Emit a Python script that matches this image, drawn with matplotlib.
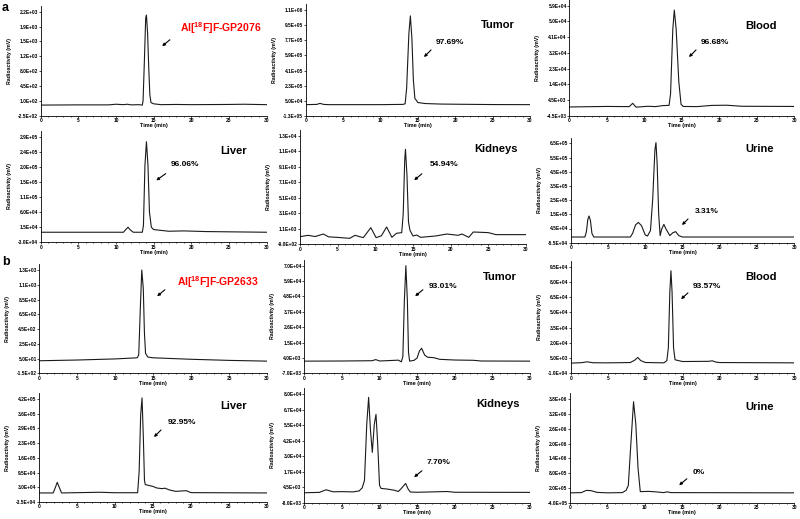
import numpy as np
import matplotlib.pyplot as plt
from matplotlib.patches import FancyArrowPatch

plt.rcParams['font.family'] = ['Liberation Sans', 'DejaVu Sans']
plt.rcParams['font.weight'] = 'bold'
plt.rcParams['mathtext.fontset'] = 'custom'
plt.rcParams['mathtext.rm'] = 'Liberation Sans:bold'
plt.rcParams['mathtext.bf'] = 'Liberation Sans:bold'

# ---------------------------------------------------------------
# Datos leídos de los cromatogramas (tiempo en min, señal en mV)
# ---------------------------------------------------------------

# a) Al[18F]F-GP2076
t_a_std = [0, 5, 9, 10, 11, 11.5, 12, 13, 13.5, 13.6, 13.75, 13.95, 14.05, 14.2, 14.35, 14.5, 14.65, 15, 16, 18, 20, 25, 27, 30]
v_a_std = [0, 5, 5, 20, 10, 20, 5, 10, 0, 100, 900, 2050, 2120, 1700, 900, 250, 60, 30, 10, 15, 10, 15, 20, 10]

t_a_tumor = [0, 1.5, 1.9, 2.4, 3, 10, 13, 13.3, 13.5, 13.8, 14.0, 14.2, 14.4, 14.6, 15, 16, 18, 20, 25, 30]
v_a_tumor = [5000, 8000, 20000, 8000, 5000, 5000, 8000, 15000, 200000, 850000, 1060000, 800000, 300000, 80000, 30000, 18000, 12000, 10000, 6000, 5000]

t_a_blood = [0, 5, 8, 8.45, 8.9, 10.5, 11.5, 12.5, 13.3, 13.5, 13.8, 14.0, 14.25, 14.6, 14.9, 15.2, 17, 19, 21, 23, 30]
v_a_blood = [500, 800, 700, 2600, 400, 900, 700, 1300, 1400, 8000, 45000, 56000, 45000, 15000, 2000, 800, 700, 1400, 1500, 900, 800]

t_a_liver = [0, 10, 11, 11.3, 11.6, 11.9, 12.3, 13.5, 13.65, 13.85, 14.05, 14.25, 14.45, 14.7, 15, 17, 19, 22, 30]
v_a_liver = [0, 0, 0, 8000, 15000, 7000, 0, 0, 20000, 200000, 270000, 200000, 60000, 15000, 8000, 3000, 4000, 2000, 0]

t_a_kid = [0, 1.1, 2, 3.1, 3.8, 4.9, 6.6, 7.3, 8.4, 9.4, 10.1, 10.8, 11.5, 12.2, 12.8, 13.5, 13.7, 13.9, 14.0, 14.2, 14.4, 14.6, 15, 15.5, 16, 18, 19.5, 21, 21.5, 22.4, 23, 25, 26, 30]
v_a_kid = [90, 260, 100, 430, 60, 0, -130, 260, -40, 1250, -40, 200, 1340, 0, 520, 610, 3000, 10000, 11380, 8000, 2000, 900, 175, 300, 0, 175, 430, 260, 430, 0, 690, 610, 350, 350]

t_a_urine = [0, 1.9, 2.1, 2.3, 2.46, 2.65, 2.85, 3.1, 8, 8.3, 8.7, 9.07, 9.5, 10.0, 10.3, 10.7, 11.0, 11.3, 11.44, 11.6, 11.8, 12.0, 12.2, 12.5, 12.8, 13.3, 13.7, 14.08, 14.5, 15, 30]
v_a_urine = [-15000, -15000, 20000, 110000, 133000, 100000, 10000, -15000, -15000, 10000, 70000, 88000, 65000, 0, -8000, 30000, 250000, 600000, 650000, 500000, 150000, -5000, 40000, 74000, 40000, -5000, 15000, 23000, -5000, -15000, -15000]

# b) Al[18F]F-GP2633
t_b_std = [0, 5, 10, 12.9, 13.1, 13.3, 13.5, 13.7, 13.85, 14.0, 14.3, 15, 20, 25, 30]
v_b_std = [20, 30, 45, 60, 100, 700, 1250, 1000, 400, 120, 70, 60, 40, 25, 15]

t_b_tumor = [0, 5, 9, 9.5, 10, 12.5, 12.9, 13.1, 13.3, 13.5, 13.7, 13.85, 14.0, 14.6, 15.0, 15.3, 15.6, 16.0, 16.4, 17.2, 18, 20, 22.5, 23.5, 30]
v_b_tumor = [1700, 1800, 2000, 2800, 1800, 2400, 1200, 5000, 45000, 70000, 45000, 8000, 1700, 2300, 4000, 9000, 10900, 6000, 4500, 4200, 3000, 2500, 2300, 1800, 1700]

t_b_blood = [0, 1.5, 2.2, 3, 5, 8, 8.6, 9.0, 9.4, 10, 12.5, 12.9, 13.1, 13.3, 13.45, 13.6, 13.8, 14.0, 15, 18.5, 19, 19.5, 20, 30]
v_b_blood = [0, 500, 1300, 400, 300, 600, 3000, 5600, 2500, 650, 300, 2500, 15000, 70000, 91000, 70000, 15000, 3300, 1600, 1800, 2300, 1000, 600, 300]

t_b_liver = [0, 1.9, 2.2, 2.44, 2.7, 3.0, 8, 10, 13.0, 13.2, 13.4, 13.58, 13.75, 13.9, 14.0, 15, 15.5, 16.2, 16.6, 17.2, 18, 19.4, 20, 30]
v_b_liver = [5000, 5000, 30000, 52000, 30000, 5000, 8000, 6000, 6000, 100000, 350000, 425000, 250000, 60000, 42000, 34000, 27000, 24000, 26000, 18000, 12000, 15000, 6400, 5000]

t_b_kid = [0, 2, 2.9, 3.8, 5, 6.5, 7.3, 7.7, 8.0, 8.3, 8.55, 8.8, 9.04, 9.3, 9.53, 9.75, 10.0, 10.2, 11, 12, 12.5, 12.9, 13.47, 13.8, 14.1, 15, 19, 20, 30]
v_b_kid = [0, 300, 2400, 800, 900, 700, 1500, 4000, 10000, 55000, 76800, 50000, 32500, 55000, 63100, 40000, 6000, 3500, 3000, 2000, 1000, 3500, 7500, 3000, 600, 400, 1000, 400, 300]

t_b_urine = [0, 1.5, 2.2, 2.8, 3.6, 5, 7, 7.5, 7.8, 8.1, 8.5, 8.8, 9.1, 9.4, 10.5, 11.5, 12.5, 13, 13.5, 30]
v_b_urine = [0, 10000, 100000, 90000, 20000, 0, 10000, 100000, 300000, 1800000, 3700000, 2800000, 1000000, 50000, 60000, 40000, 10000, 40000, 10000, 0]

# Ejes Y: primer valor, paso y etiquetas tal como aparecen
y_start = [-250, -130000, -4500, -30000, -900, -55000,
           -150, -7000, -10000, -35000, -8000, -400000]
y_step = [350, 180000, 9000, 45000, 2000, 100000,
          200, 11000, 15000, 65000, 12500, 600000]
y_labels = [
    ["-2.5E+02", "1.0E+02", "4.5E+02", "8.0E+02", "1.2E+03", "1.5E+03", "1.9E+03", "2.2E+03"],
    ["-1.3E+05", "5.0E+04", "2.3E+05", "4.1E+05", "5.9E+05", "7.7E+05", "9.5E+05", "1.1E+06"],
    ["-4.5E+03", "4.5E+03", "1.4E+04", "2.3E+04", "3.2E+04", "4.1E+04", "5.0E+04", "5.9E+04"],
    ["-3.0E+04", "1.5E+04", "6.0E+04", "1.1E+05", "1.5E+05", "2.0E+05", "2.4E+05", "2.9E+05"],
    ["-9.0E+02", "1.1E+03", "3.1E+03", "5.1E+03", "7.1E+03", "9.1E+03", "1.1E+04", "1.3E+04"],
    ["-5.5E+04", "4.5E+04", "1.5E+05", "2.5E+05", "3.5E+05", "4.5E+05", "5.5E+05", "6.5E+05"],
    ["-1.5E+02", "5.0E+01", "2.5E+02", "4.5E+02", "6.5E+02", "8.5E+02", "1.1E+03", "1.3E+03"],
    ["-7.0E+03", "4.0E+03", "1.5E+04", "2.6E+04", "3.7E+04", "4.8E+04", "5.9E+04", "7.0E+04"],
    ["-1.0E+04", "5.0E+03", "2.0E+04", "3.5E+04", "5.0E+04", "6.5E+04", "8.0E+04", "9.5E+04"],
    ["-3.5E+04", "3.0E+04", "9.5E+04", "1.6E+05", "2.3E+05", "2.9E+05", "3.6E+05", "4.2E+05"],
    ["-8.0E+03", "4.5E+03", "1.7E+04", "3.0E+04", "4.2E+04", "5.5E+04", "6.7E+04", "8.0E+04"],
    ["-4.0E+05", "2.0E+05", "8.0E+05", "1.4E+06", "2.0E+06", "2.6E+06", "3.2E+06", "3.8E+06"],
]

titles = ["", "Tumor", "Blood", "Liver", "Kidneys", "Urine",
          "", "Tumor", "Blood", "Liver", "Kidneys", "Urine"]
compounds = [r"Al[$^{18}$F]F-GP2076", r"Al[$^{18}$F]F-GP2633"]
percents = ["", "97.69%", "96.68%", "96.06%", "54.94%", "3.31%",
            "", "93.01%", "93.57%", "92.95%", "7.70%", "0%"]

series = [(t_a_std, v_a_std), (t_a_tumor, v_a_tumor), (t_a_blood, v_a_blood),
          (t_a_liver, v_a_liver), (t_a_kid, v_a_kid), (t_a_urine, v_a_urine),
          (t_b_std, v_b_std), (t_b_tumor, v_b_tumor), (t_b_blood, v_b_blood),
          (t_b_liver, v_b_liver), (t_b_kid, v_b_kid), (t_b_urine, v_b_urine)]

# ---------------------------------------------------------------
# Maquetación (píxeles de la imagen, origen arriba a la izquierda)
# ---------------------------------------------------------------
W, H = 800, 519
# (x de t=0, x de t=30, y del tick superior, y del eje X)
cajas = [(40.7, 266.5, 11.7, 115.7), (305.7, 530, 10, 116), (569.3, 794.3, 5.7, 115.7),
         (40.7, 266.5, 136.7, 242.3), (300, 526, 136, 244.3), (570.7, 794.3, 143.3, 242.7),
         (39.3, 267, 270, 373.3), (304.3, 530, 265.7, 373.3), (570.7, 794.3, 266.7, 373.3),
         (38.7, 267, 399, 502), (304.3, 530, 394, 502.7), (570, 794.3, 399.3, 502.7)]
# posición del título (x izq, y centro)
pos_titulo = [None, (481, 25), (745, 26), (220, 151), (474, 149), (745, 149),
              None, (483, 277), (745, 277), (220, 406), (476, 404), (745, 407)]
pos_pct = [None, (436, 42), (701, 42), (171, 164.5), (430, 164), (695, 212),
           None, (429, 286), (693, 287), (168, 423), (427, 463), (693, 472)]
flechas = [((172, 38), (160, 48)), ((433, 48), (422, 59)), ((698, 48), (687, 59)),
           ((168, 172), (154, 182)), ((424, 172), (412, 182)), ((690, 217), (680, 227)),
           ((167, 288), (155, 298)), ((425, 288), (413, 298)), ((690, 291), (679, 301)),
           ((163, 428), (152, 439)), ((424, 469), (412, 479)), ((689, 477), (677, 487))]
pos_compuesto = [(180, 28), (177, 282)]

EXTRA = 0.4  # fracción de paso por encima del último tick
COL_LINEA = "#1a1a1a"


def fr(x, y):
    """píxel (origen arriba-izquierda) -> fracción de figura"""
    return (x / W, 1 - y / H)


fig = plt.figure(figsize=(W / 100, H / 100), dpi=100)

for k, (t, v) in enumerate(series):
    x0, x30, ytop, ybot = cajas[k]
    paso_px = (ybot - ytop) / 7
    top = ytop - EXTRA * paso_px
    ax = fig.add_axes([x0 / W, 1 - ybot / H, (x30 - x0) / W, (ybot - top) / H])
    ax.plot(t, v, color=COL_LINEA, lw=0.8, solid_joinstyle='round')

    ticks = [y_start[k] + i * y_step[k] for i in range(8)]
    ax.set_ylim(y_start[k], y_start[k] + (7 + EXTRA) * y_step[k])
    ax.set_yticks(ticks)
    ax.set_yticklabels(y_labels[k])
    ax.set_xlim(0, 30)
    ax.set_xticks(range(0, 31, 5))
    ax.set_xticks(range(0, 31), minor=True)

    for s in ("top", "right"):
        ax.spines[s].set_visible(False)
    for s in ("left", "bottom"):
        ax.spines[s].set_linewidth(0.6)
    ax.tick_params(axis="both", which="major", labelsize=3.5, length=1.2, width=0.5, pad=0.6)
    ax.tick_params(axis="x", which="minor", length=0.9, width=0.5)
    for lab in ax.get_xticklabels() + ax.get_yticklabels():
        lab.set_fontweight("bold")

    ancho = x30 - x0
    alto = ybot - top
    ax.set_ylabel("Radioactivity (mV)", fontsize=3.8, fontweight="bold")
    ax.yaxis.set_label_coords(-29 / ancho, 0.5)
    ax.set_xlabel("Time (min)", fontsize=4, fontweight="bold")
    ax.xaxis.set_label_coords(0.5, -7.5 / alto)

    if titles[k]:
        fig.text(*fr(*pos_titulo[k]), titles[k], fontsize=8, fontweight="bold",
                 ha="left", va="center")
        fig.text(*fr(*pos_pct[k]), percents[k], fontsize=6, fontweight="bold",
                 ha="left", va="center")
    (xa, ya), (xb, yb) = flechas[k]
    fig.add_artist(FancyArrowPatch(fr(xa, ya), fr(xb, yb), transform=fig.transFigure,
                                   arrowstyle="-|>", mutation_scale=4, lw=0.8,
                                   color="black"))

for i, txt in enumerate(compounds):
    fig.text(*fr(*pos_compuesto[i]), txt, fontsize=7.5, fontweight="bold",
             color="#ff0000", ha="left", va="center")

fig.text(*fr(2, 8), "a", fontsize=9, fontweight="bold", ha="left", va="center")
fig.text(*fr(2, 262), "b", fontsize=9, fontweight="bold", ha="left", va="center")

fig.savefig("out.png", dpi=100)
